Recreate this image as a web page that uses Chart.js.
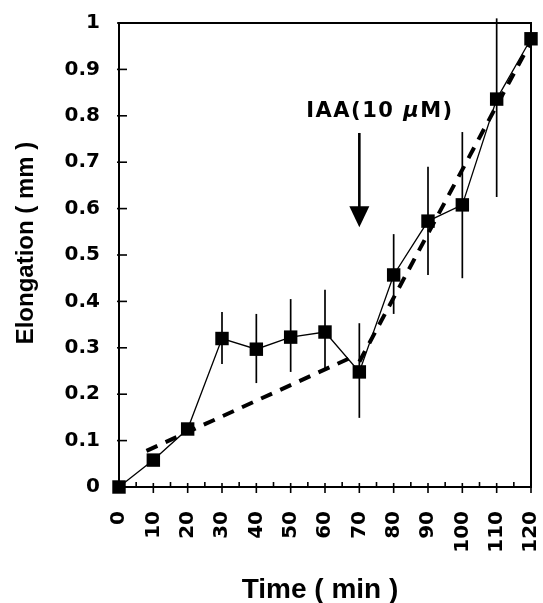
<!DOCTYPE html>
<html><head><meta charset="utf-8">
<script src="https://cdn.jsdelivr.net/npm/chart.js@4/dist/chart.umd.min.js"></script>
<style>html,body{margin:0;padding:0;background:#fff;}#wrap{width:543px;height:603px;}</style>
</head><body><div id="wrap"><canvas id="c" width="543" height="603"></canvas></div>
<script>
// ---- data ----
const times = [0, 10, 20, 30, 40, 50, 60, 70, 80, 90, 100, 110, 120];
const elongation = [0, 0.058, 0.125, 0.32, 0.297, 0.323, 0.334, 0.248, 0.457, 0.573, 0.608, 0.836, 0.966];
const errLow  = [null, null, null, 0.265, 0.224, 0.248, 0.254, 0.149, 0.373, 0.457, 0.450, 0.625, null];
const errHigh = [null, null, null, 0.377, 0.373, 0.405, 0.425, 0.353, 0.545, 0.690, 0.765, 1.010, null];
const trendBefore = [{x: 8, y: 0.078}, {x: 67, y: 0.277}];
const trendAfter  = [{x: 70, y: 0.27}, {x: 120, y: 0.96}];
const xTickValues = [0, 10, 20, 30, 40, 50, 60, 70, 80, 90, 100, 110, 120];
const xTickLabels = ['0', '10', '20', '30', '40', '50', '60', '70', '80', '90', '100', '110', '120'];
const yTickValues = [0, 0.1, 0.2, 0.3, 0.4, 0.5, 0.6, 0.7, 0.8, 0.9, 1];
const yTickLabels = ['0', '0.1', '0.2', '0.3', '0.4', '0.5', '0.6', '0.7', '0.8', '0.9', '1'];
const xTitle = 'Time ( min )';
const yTitle = 'Elongation ( mm )';
const noteParts = [['IAA(10 ', false], ['\u03bc', true], ['M)', false]];
const arrowAt = {x: 70, top: 0.763, tip: 0.56};
const noteAt = {x: 75.8, y: 0.81};

const tickFont = {family: 'DejaVu Sans', weight: 'bold', size: 20};

const decor = {
  id: 'decor',
  beforeDatasetsDraw(chart) {
    const {ctx, scales: {x, y}} = chart;
    ctx.save();
    ctx.strokeStyle = '#000';
    ctx.lineWidth = 1.7;
    times.forEach((t, i) => {
      if (errLow[i] == null) return;
      const px = x.getPixelForValue(t);
      ctx.beginPath();
      ctx.moveTo(px, y.getPixelForValue(errLow[i]));
      ctx.lineTo(px, y.getPixelForValue(errHigh[i]));
      ctx.stroke();
    });
    ctx.restore();
  },
  afterDraw(chart) {
    const {ctx, chartArea: a, scales: {x, y}} = chart;
    ctx.save();
    ctx.strokeStyle = '#000';
    ctx.fillStyle = '#000';
    // frame
    ctx.lineWidth = 2;
    ctx.strokeRect(a.left, a.top, a.right - a.left, a.bottom - a.top);
    // y ticks
    ctx.lineWidth = 1.6;
    yTickValues.forEach(v => {
      const py = y.getPixelForValue(v);
      ctx.beginPath(); ctx.moveTo(a.left - 2, py); ctx.lineTo(a.left + 8, py); ctx.stroke();
    });
    // x ticks (major + minor)
    xTickValues.forEach((v, i) => {
      const px = x.getPixelForValue(v);
      ctx.beginPath(); ctx.moveTo(px, a.bottom - 4); ctx.lineTo(px, a.bottom + 6); ctx.stroke();
      if (i < xTickValues.length - 1) {
        const pm = x.getPixelForValue((v + xTickValues[i + 1]) / 2);
        ctx.beginPath(); ctx.moveTo(pm, a.bottom - 5); ctx.lineTo(pm, a.bottom); ctx.stroke();
      }
    });
    // axis titles
    ctx.textAlign = 'center';
    ctx.textBaseline = 'alphabetic';
    ctx.font = 'bold 28px "Liberation Sans", Arial, sans-serif';
    ctx.fillText(xTitle, (a.left + a.right) / 2 - 5, 598);
    ctx.save();
    ctx.translate(33, (a.top + a.bottom) / 2 - 12);
    ctx.rotate(-Math.PI / 2);
    ctx.font = 'bold 24px "Liberation Sans", Arial, sans-serif';
    ctx.fillText(yTitle, 0, 0);
    ctx.restore();
    // arrow
    const ax = x.getPixelForValue(arrowAt.x);
    const aTop = y.getPixelForValue(arrowAt.top);
    const aTip = y.getPixelForValue(arrowAt.tip);
    ctx.lineWidth = 2.6;
    ctx.beginPath(); ctx.moveTo(ax, aTop); ctx.lineTo(ax, aTip - 18); ctx.stroke();
    ctx.beginPath();
    ctx.moveTo(ax - 10, aTip - 21); ctx.lineTo(ax + 10, aTip - 21); ctx.lineTo(ax, aTip); ctx.closePath(); ctx.fill();
    // note text
    const spacing = 1.5;
    const chars = [];
    noteParts.forEach(([s, it]) => { for (const c of s) chars.push([c, it]); });
    const fontOf = it => (it ? 'italic ' : '') + 'bold 21px "DejaVu Sans", sans-serif';
    let total = 0;
    chars.forEach(([c, it]) => { ctx.font = fontOf(it); total += ctx.measureText(c).width + spacing; });
    total -= spacing;
    let cx = x.getPixelForValue(noteAt.x) - total / 2;
    const cy = y.getPixelForValue(noteAt.y);
    ctx.textAlign = 'left';
    ctx.textBaseline = 'middle';
    chars.forEach(([c, it]) => { ctx.font = fontOf(it); ctx.fillText(c, cx, cy); cx += ctx.measureText(c).width + spacing; });
    ctx.restore();
  }
};

new Chart(document.getElementById('c'), {
  type: 'line',
  data: {
    datasets: [
      {
        data: times.map((t, i) => ({x: t, y: elongation[i]})),
        borderColor: '#000', borderWidth: 1.3,
        pointStyle: 'rect', pointRadius: 9.5, pointBackgroundColor: '#000', pointBorderColor: '#000', pointBorderWidth: 0,
        tension: 0, clip: false, order: 1
      },
      {
        data: trendBefore, borderColor: '#000', borderWidth: 4, borderDash: [12, 9],
        pointRadius: 0, tension: 0, clip: false, order: 2
      },
      {
        data: trendAfter, borderColor: '#000', borderWidth: 4, borderDash: [12, 9],
        pointRadius: 0, tension: 0, clip: false, order: 2
      }
    ]
  },
  options: {
    responsive: false, animation: false, devicePixelRatio: 1,
    layout: {padding: {top: 23, right: 12, left: 0, bottom: 0}},
    plugins: {legend: {display: false}, tooltip: {enabled: false}},
    scales: {
      x: {
        type: 'linear', min: 0, max: 120,
        afterBuildTicks: s => { s.ticks = xTickValues.map(v => ({value: v})); },
        ticks: {autoSkip: false, minRotation: 90, maxRotation: 90, padding: 24, font: tickFont, color: '#000',
                callback: (v, i) => xTickLabels[i]},
        grid: {display: false, drawTicks: false},
        border: {display: false},
        afterFit: s => { s.height = 116; s.paddingLeft = 0; s.paddingRight = 0; }
      },
      y: {
        type: 'linear', min: 0, max: 1,
        afterBuildTicks: s => { s.ticks = yTickValues.map(v => ({value: v})); },
        ticks: {padding: 19, font: tickFont, color: '#000', callback: (v, i) => yTickLabels[i]},
        grid: {display: false, drawTicks: false},
        border: {display: false},
        afterFit: s => { s.width = 119; s.paddingTop = 0; s.paddingBottom = 0; }
      }
    }
  },
  plugins: [decor]
});
</script>
</body></html>
